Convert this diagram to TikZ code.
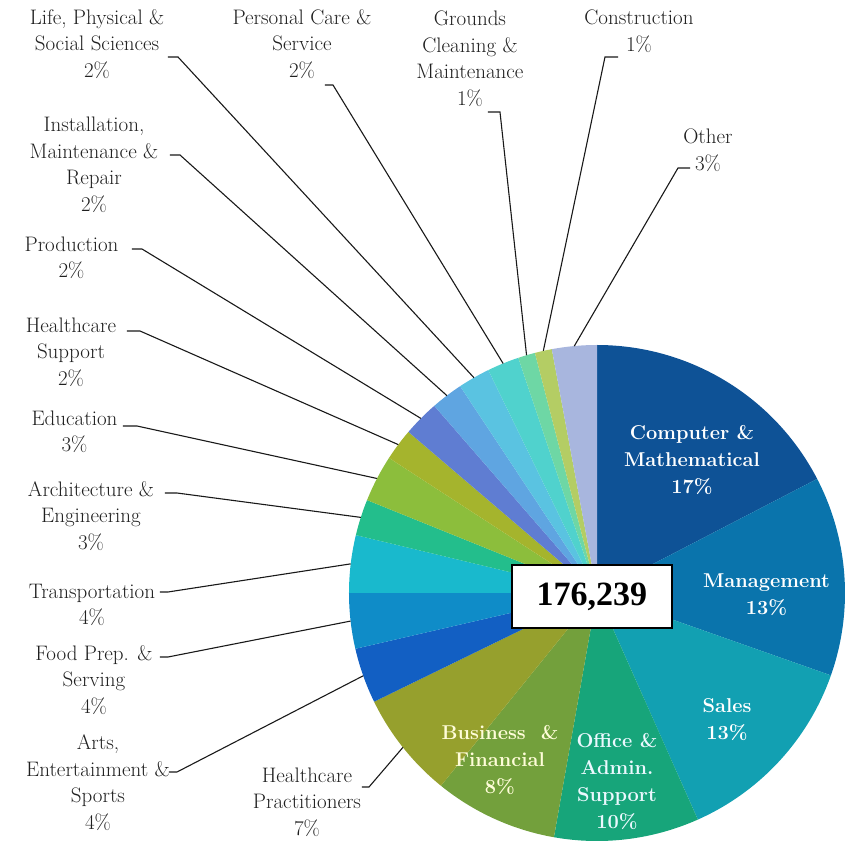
\documentclass[tikz,border=0pt]{standalone}
\usepackage{fontspec}
\newfontfamily\totalfont{Liberation Serif}
\definecolor{cComp}{HTML}{0E5296}
\definecolor{cMgmt}{HTML}{0A74AC}
\definecolor{cSales}{HTML}{12A0B2}
\definecolor{cOffice}{HTML}{17A57A}
\definecolor{cBus}{HTML}{73A03C}
\definecolor{cHP}{HTML}{96A02D}
\definecolor{cArts}{HTML}{125FC3}
\definecolor{cFood}{HTML}{0F8CC8}
\definecolor{cTrans}{HTML}{19B9CD}
\definecolor{cArch}{HTML}{23BE8C}
\definecolor{cEdu}{HTML}{8CBE3C}
\definecolor{cHCS}{HTML}{A5B42D}
\definecolor{cProd}{HTML}{5F7DD2}
\definecolor{cInst}{HTML}{5FA5E1}
\definecolor{cLife}{HTML}{5AC3E1}
\definecolor{cPers}{HTML}{50D2CD}
\definecolor{cGround}{HTML}{6ED7A5}
\definecolor{cConstr}{HTML}{B4CD64}
\definecolor{cOther}{HTML}{A8B6DE}
\tikzset{
  lbl/.style={align=center, inner sep=0pt, text=black!88, font=\fontsize{21}{26.5}\selectfont},
  inlbl/.style={align=center, inner sep=0pt, font=\bfseries\fontsize{20}{27}\selectfont},
  leader/.style={draw=black!90, line width=1.1pt},
}
\begin{document}
\begin{tikzpicture}[x=1pt,y=1pt]
	\useasboundingbox (-597,-250) rectangle (254,593);
	
	\foreach \a/\b/\c in {27.4/90/cComp, -19.4/27.4/cMgmt, -66/-19.4/cSales, -100/-66/cOffice,
		-129/-100/cBus, -154/-129/cHP, 193/206/cArts, 180/193/cFood, 166.5/180/cTrans,
		158/166.5/cArch, 147/158/cEdu, 139.5/147/cHCS, 131/139.5/cProd, 123.5/131/cInst,
		116/123.5/cLife, 108.5/116/cPers, 104.5/108.5/cGround, 100.5/104.5/cConstr, 90/100.5/cOther}
		\fill[\c] (0,0) -- (\a:248pt) arc[start angle=\a, end angle=\b, radius=248pt] -- cycle;
	
	\node	(comp) at (95,133) [inlbl, text=white] {Computer \&\\Mathematical\\17\%};
	\node	(mgmt) at (169.5,-2) [inlbl, text=white] {Management\\13\%};
	\node	(sales) at (130,-127) [inlbl, text=white] {Sales\\13\%};
	\node	(office) at (20,-188) [inlbl, text=cyan!8] {Office \&\\Admin.\\Support\\10\%};
	\node	(bus) at (-97,-167) [inlbl, text=yellow!15] {Business \ \&\\Financial\\8\%};
	\node	(total) at (-5,-3.5) [draw, line width=1.5pt, fill=white, minimum width=160pt, minimum height=63pt, font=\totalfont\bfseries\fontsize{34}{40}\selectfont] {176,239};
	
	\node	(life) at (-500,549) [lbl] {Life, Physical \&\\Social Sciences\\2\%};
	\node	(pers) at (-295,549) [lbl] {Personal Care \&\\Service\\2\%};
	\node	(grnd) at (-127,534.5) [lbl] {Grounds\\Cleaning \&\\Maintenance\\1\%};
	\node	(cons) at (42,562) [lbl] {Construction\\1\%};
	\node	(oth) at (111,443) [lbl] {Other\\3\%};
	\node	(inst) at (-503,428) [lbl] {Installation,\\Maintenance \&\\Repair\\2\%};
	\node	(prod) at (-525.5,335) [lbl] {Production\\2\%};
	\node	(hcs) at (-526,241) [lbl] {Healthcare\\Support\\2\%};
	\node	(edu) at (-522.5,161) [lbl] {Education\\3\%};
	\node	(arch) at (-506,77) [lbl] {Architecture \&\\Engineering\\3\%};
	\node	(trans) at (-505,-12) [lbl] {Transportation\\4\%};
	\node	(food) at (-503,-87) [lbl] {Food Prep. \&\\Serving\\4\%};
	\node	(arts) at (-499,-189.5) [lbl] {Arts,\\Entertainment \&\\Sports\\4\%};
	\node	(hp) at (-290,-209) [lbl] {Healthcare\\Practitioners\\7\%};
	
	\coordinate (lifeA) at (-429,536);	\coordinate (lifeB) at (-419,536);	\coordinate (lifeP) at (119.75:248pt);
	\coordinate (persA) at (-272,508);	\coordinate (persB) at (-264,508);	\coordinate (persP) at (112.25:248pt);
	\coordinate (grndA) at (-109,481);	\coordinate (grndB) at (-97,481);	\coordinate (grndP) at (106.5:248pt);
	\coordinate (consA) at (21,536);	\coordinate (consB) at (8,536);	\coordinate (consP) at (102.5:248pt);
	\coordinate (othA) at (93,425);	\coordinate (othB) at (81,425);	\coordinate (othP) at (95.25:248pt);
	\coordinate (instA) at (-427,438);	\coordinate (instB) at (-417,438);	\coordinate (instP) at (127.25:248pt);
	\coordinate (prodA) at (-465,344);	\coordinate (prodB) at (-455,344);	\coordinate (prodP) at (135.25:248pt);
	\coordinate (hcsA) at (-470,262);	\coordinate (hcsB) at (-457,262);	\coordinate (hcsP) at (143.25:248pt);
	\coordinate (eduA) at (-474,167);	\coordinate (eduB) at (-460,167);	\coordinate (eduP) at (152.5:248pt);
	\coordinate (archA) at (-432,100);	\coordinate (archB) at (-420,100);	\coordinate (archP) at (162.25:248pt);
	\coordinate (transA) at (-437,1);	\coordinate (transB) at (-429,1);	\coordinate (transP) at (173.25:248pt);
	\coordinate (foodA) at (-437,-64);	\coordinate (foodB) at (-429,-64);	\coordinate (foodP) at (186.5:248pt);
	\coordinate (artsA) at (-428,-179);	\coordinate (artsB) at (-420,-179);	\coordinate (artsP) at (199.5:248pt);
	\coordinate (hpA) at (-235,-194);	\coordinate (hpB) at (-228,-194);	\coordinate (hpP) at (218.5:248pt);
	
	\draw[leader] (lifeA) -- (lifeB) -- (lifeP);
	\draw[leader] (persA) -- (persB) -- (persP);
	\draw[leader] (grndA) -- (grndB) -- (grndP);
	\draw[leader] (consA) -- (consB) -- (consP);
	\draw[leader] (othA) -- (othB) -- (othP);
	\draw[leader] (instA) -- (instB) -- (instP);
	\draw[leader] (prodA) -- (prodB) -- (prodP);
	\draw[leader] (hcsA) -- (hcsB) -- (hcsP);
	\draw[leader] (eduA) -- (eduB) -- (eduP);
	\draw[leader] (archA) -- (archB) -- (archP);
	\draw[leader] (transA) -- (transB) -- (transP);
	\draw[leader] (foodA) -- (foodB) -- (foodP);
	\draw[leader] (artsA) -- (artsB) -- (artsP);
	\draw[leader] (hpA) -- (hpB) -- (hpP);
\end{tikzpicture}
\end{document}
